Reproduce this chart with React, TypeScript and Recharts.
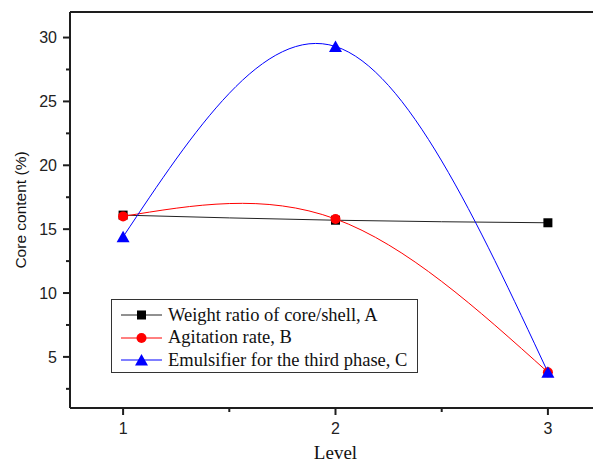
import React from "react";
import { LineChart, Line, XAxis, YAxis, ReferenceLine, Legend } from "recharts";

// ── Data: core content (%) by level ─────────────────────────────
const levels = [1, 2, 3];
const ratioA = [16.1, 15.7, 15.5];
const agitationB = [16.0, 15.8, 3.8];
const emulsifierC = [14.4, 29.3, 3.8];

const seriesNames = [
  "Weight ratio of core/shell, A",
  "Agitation rate, B",
  "Emulsifier for the third phase, C",
];

const xTicks = [1, 1.5, 2, 2.5, 3];
const yTicks = [2.5, 5, 7.5, 10, 12.5, 15, 17.5, 20, 22.5, 25, 27.5, 30];

const data = levels.map((level, i) => ({
  level,
  a: ratioA[i],
  b: agitationB[i],
  c: emulsifierC[i],
}));

const AXIS = "#1e1e1e";
const SANS = "Arial, 'Liberation Sans', sans-serif";
const SERIF = "'Times New Roman', 'Liberation Serif', serif";

// ── Markers ─────────────────────────────────────────────────────
function Marker({ kind, cx, cy }: { kind: string; cx: number; cy: number }) {
  if (kind === "a") {
    return <rect x={cx - 4.5} y={cy - 4.5} width={9} height={9} fill="#000" />;
  }
  if (kind === "b") {
    return <circle cx={cx} cy={cy} r={5} fill="#ff0000" />;
  }
  return (
    <polygon
      points={`${cx},${cy - 6} ${cx - 6.5},${cy + 5.5} ${cx + 6.5},${cy + 5.5}`}
      fill="#0000ff"
    />
  );
}

const dotFor = (kind: string) => (props: any) =>
  <Marker key={`${kind}-${props.index}`} kind={kind} cx={props.cx} cy={props.cy} />;

// ── Axis ticks (major + minor) ──────────────────────────────────
function YTick({ x, y, payload }: any) {
  const major = payload.value % 5 === 0;
  return (
    <g>
      <line x1={x} x2={x - (major ? 7 : 4)} y1={y} y2={y} stroke={AXIS} strokeWidth={2} />
      {major && (
        <text x={x - 13} y={y} dy="0.36em" textAnchor="end" fontFamily={SANS} fontSize={16} fill="#222">
          {payload.value}
        </text>
      )}
    </g>
  );
}

function XTick({ x, y, payload }: any) {
  const major = Number.isInteger(payload.value);
  return (
    <g>
      <line x1={x} x2={x} y1={y} y2={y + (major ? 7 : 4)} stroke={AXIS} strokeWidth={2} />
      {major && (
        <text x={x} y={y + 26} textAnchor="middle" fontFamily={SANS} fontSize={16} fill="#222">
          {payload.value}
        </text>
      )}
    </g>
  );
}

// ── Legend box ──────────────────────────────────────────────────
function LegendBox({ payload }: any) {
  const items = [...(payload || [])].sort((p: any, q: any) =>
    String(p.dataKey).localeCompare(String(q.dataKey))
  );
  return (
    <div
      style={{
        width: 307,
        height: 74,
        boxSizing: "border-box",
        border: "1.5px solid #333",
        background: "#fff",
        paddingTop: 4,
      }}
    >
      {items.map((item: any) => (
        <div key={item.dataKey} style={{ display: "flex", alignItems: "center", height: 22.5 }}>
          <svg width={52} height={16} style={{ marginLeft: 9, flexShrink: 0 }}>
            <line x1={0} x2={41} y1={8} y2={8} stroke={item.color} strokeWidth={1} />
            <Marker kind={item.dataKey} cx={20.5} cy={8} />
          </svg>
          <span style={{ fontFamily: SERIF, fontSize: 18.5, color: "#111", whiteSpace: "nowrap", marginLeft: -5 }}>
            {item.value}
          </span>
        </div>
      ))}
    </div>
  );
}

export default function App() {
  return (
    <div
      style={{
        position: "absolute",
        left: 0,
        top: 0,
        width: 593,
        height: 464,
        overflow: "hidden",
        background: "#fff",
      }}
    >
      <LineChart width={610} height={464} data={data} margin={{ top: 12, right: 9, bottom: 6, left: 20 }}>
        <XAxis
          dataKey="level"
          type="number"
          domain={[0.75, 3.25]}
          ticks={xTicks}
          interval={0}
          allowDataOverflow
          height={50}
          tickSize={0}
          tickMargin={0}
          tickLine={false}
          tick={<XTick />}
          axisLine={{ stroke: AXIS, strokeWidth: 2 }}
          label={(props: any) => {
            const vb = props.viewBox;
            return (
              <text x={vb.x + vb.width / 2} y={vb.y + 51} textAnchor="middle" fontFamily={SERIF} fontSize={19} fill="#111">
                Level
              </text>
            );
          }}
        />
        <YAxis
          type="number"
          domain={[1, 32]}
          ticks={yTicks}
          interval={0}
          allowDataOverflow
          width={50}
          tickSize={0}
          tickMargin={0}
          tickLine={false}
          tick={<YTick />}
          axisLine={{ stroke: AXIS, strokeWidth: 2 }}
          label={(props: any) => {
            const vb = props.viewBox;
            const lx = vb.x + 6;
            const ly = vb.y + vb.height / 2;
            return (
              <text x={lx} y={ly} transform={`rotate(-90, ${lx}, ${ly})`} textAnchor="middle" fontFamily={SANS} fontSize={15.5} fill="#111">
                Core content (%)
              </text>
            );
          }}
        />
        <ReferenceLine y={32} stroke={AXIS} strokeWidth={2} />
        <Legend
          layout="vertical"
          align="center"
          verticalAlign="middle"
          content={<LegendBox />}
          wrapperStyle={{ position: "absolute", left: 111, top: 299, width: 307, height: 74 }}
        />
        <Line type="natural" dataKey="a" name={seriesNames[0]} stroke="#222" strokeWidth={1} dot={dotFor("a")} activeDot={false} isAnimationActive={false} />
        <Line type="natural" dataKey="b" name={seriesNames[1]} stroke="#ff0000" strokeWidth={1} dot={dotFor("b")} activeDot={false} isAnimationActive={false} />
        <Line type="natural" dataKey="c" name={seriesNames[2]} stroke="#0000ff" strokeWidth={1} dot={dotFor("c")} activeDot={false} isAnimationActive={false} />
      </LineChart>
    </div>
  );
}
